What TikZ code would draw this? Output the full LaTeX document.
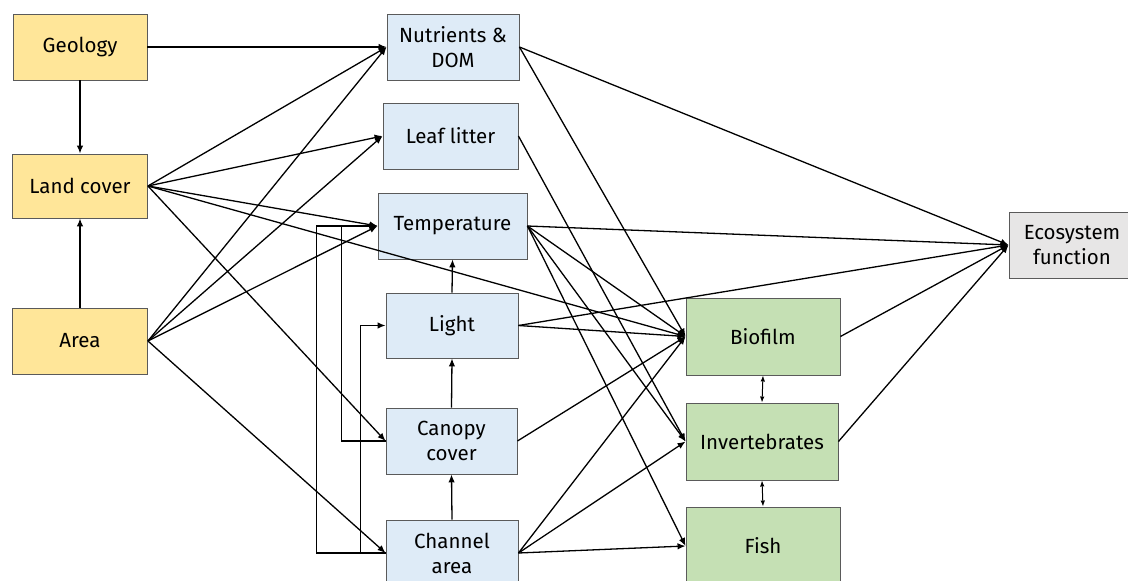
\documentclass[tikz,border=0pt]{standalone}
\usepackage{fontspec}
\setmainfont{Fira Sans}
\usetikzlibrary{arrows.meta,calc}
\definecolor{yel}{HTML}{FFE699}
\definecolor{blu}{HTML}{DEEBF7}
\definecolor{grn}{HTML}{C5E0B4}
\definecolor{gry}{HTML}{E7E6E6}
\definecolor{brd}{HTML}{5A5A5A}
\begin{document}
\begin{tikzpicture}[x=1pt,y=-1pt,
  box/.style={draw=brd,line width=0.9pt,align=center,inner sep=0pt,
    font=\fontsize{20.5}{25}\selectfont},
  ybox/.style={box,fill=yel},
  bbox/.style={box,fill=blu},
  gbox/.style={box,fill=grn},
  ebox/.style={box,fill=gry},
  conn/.style={line width=1.3pt,-{Latex[length=8pt,width=6.5pt]}},
  dbl/.style={line width=1pt,{Latex[length=6pt,width=4.5pt]}-{Latex[length=6pt,width=4.5pt]}}]
\useasboundingbox (0,0) rectangle (1128,581);
\fill[white] (0,0) rectangle (1128,581);
% left column
\node[ybox,minimum width=134pt,minimum height=66pt] (geo) at (80,47) {Geology};
\node[ybox,minimum width=135pt,minimum height=64pt] (land) at (80,186) {Land cover};
\node[ybox,minimum width=135pt,minimum height=66pt] (area) at (80,341) {Area};
% middle column
\node[bbox,minimum width=132pt,minimum height=66pt] (nut) at (453,47) {Nutrients \&\\DOM};
\node[bbox,minimum width=135pt,minimum height=66pt] (leaf) at (450.5,136) {Leaf litter};
\node[bbox,minimum width=149pt,minimum height=66pt] (temp) at (452.5,226) {Temperature};
\node[bbox,minimum width=132pt,minimum height=65pt] (light) at (452,325.5) {Light};
\node[bbox,minimum width=131pt,minimum height=66pt] (canopy) at (451.5,441) {Canopy\\cover};
\node[bbox,minimum width=132pt,minimum height=66pt] (channel) at (452,553) {Channel\\area};
% biota
\node[gbox,minimum width=154pt,minimum height=77pt] (bio) at (763,336.5) {Biofilm};
\node[gbox,minimum width=152pt,minimum height=77pt] (inv) at (762,441.5) {Invertebrates};
\node[gbox,minimum width=154pt,minimum height=78pt] (fish) at (763,546) {Fish};
% outcome
\node[ebox,minimum width=126pt,minimum height=66pt] (eco) at (1072,245) {Ecosystem\\function};
% left connectors
\draw[conn] (geo.east) -- (nut.west);
\draw[conn] (geo.south) -- (land.north);
\draw[conn] (area.north) -- (land.south);
\foreach \t in {nut,leaf,temp,canopy,bio} \draw[conn] (land.east) -- (\t.west);
\foreach \t in {nut,leaf,temp,channel} \draw[conn] (area.east) -- (\t.west);
% feedback elbows
\draw[conn] (channel.west) -- ++(-69,0) |- (temp.west);
\draw[conn] (canopy.west) -- ++(-44,0) |- (temp.west);
\draw[conn] (channel.west) -- ++(-25,0) |- (light.west);
% vertical
\draw[conn] (light.north) -- (temp.south);
\draw[conn] (canopy.north) -- (light.south);
\draw[conn] (channel.north) -- (canopy.south);
% to biota
\draw[conn] (nut.east) -- (bio.west);
\draw[conn] (leaf.east) -- (inv.west);
\foreach \t in {bio,inv,fish} \draw[conn] (temp.east) -- (\t.west);
\draw[conn] (light.east) -- (bio.west);
\draw[conn] (canopy.east) -- (bio.west);
\foreach \t in {bio,inv,fish} \draw[conn] (channel.east) -- (\t.west);
% to ecosystem
\foreach \s in {nut,temp,light,bio,inv} \draw[conn] (\s.east) -- (eco.west);
% biota interactions
\draw[dbl] (bio.south) -- (inv.north);
\draw[dbl] (inv.south) -- (fish.north);
\end{tikzpicture}
\end{document}
